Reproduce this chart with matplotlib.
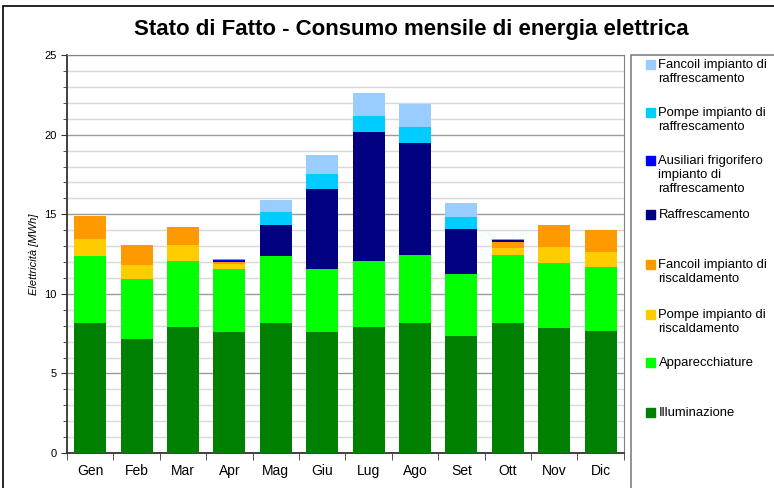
import matplotlib.pyplot as plt
import matplotlib.patches as mpatches
from matplotlib.ticker import MultipleLocator, FixedLocator
import numpy as np

plt.rcParams['font.family'] = ['Liberation Sans', 'DejaVu Sans']

mesi = ['Gen', 'Feb', 'Mar', 'Apr', 'Mag', 'Giu', 'Lug', 'Ago', 'Set', 'Ott', 'Nov', 'Dic']

# MWh per month, stacked from bottom to top
illuminazione = [8.18, 7.18, 7.93, 7.62, 8.18, 7.62, 7.93, 8.18, 7.36, 8.18, 7.87, 7.68]
apparecchiature = [4.20, 3.76, 4.14, 3.95, 4.20, 3.95, 4.14, 4.27, 3.90, 4.27, 4.08, 4.01]
pompe_risc = [1.07, 0.88, 1.01, 0.33, 0, 0, 0, 0, 0, 0.44, 1.00, 0.95]
fancoil_risc = [1.45, 1.26, 1.12, 0.13, 0, 0, 0, 0, 0, 0.35, 1.38, 1.38]
raffrescamento = [0, 0, 0, 0.06, 1.95, 5.02, 8.10, 7.01, 2.82, 0.12, 0, 0]
ausiliari = [0, 0, 0, 0.02, 0.02, 0.03, 0.03, 0.03, 0.02, 0.02, 0, 0]
pompe_raffr = [0, 0, 0, 0.05, 0.80, 0.91, 0.97, 0.99, 0.73, 0.06, 0, 0]
fancoil_raffr = [0, 0, 0, 0.01, 0.75, 1.19, 1.45, 1.44, 0.88, 0.02, 0, 0]

serie = [illuminazione, apparecchiature, pompe_risc, fancoil_risc,
         raffrescamento, ausiliari, pompe_raffr, fancoil_raffr]
etichette = ['Illuminazione', 'Apparecchiature', 'Pompe impianto di\nriscaldamento',
             'Fancoil impianto di\nriscaldamento', 'Raffrescamento',
             'Ausiliari frigorifero\nimpianto di\nraffrescamento',
             'Pompe impianto di\nraffrescamento', 'Fancoil impianto di\nraffrescamento']
colori = ['#008000', '#00FF00', '#FFCC00', '#FF9900', '#000080', '#0000FF', '#00CCFF', '#99CCFF']

fig = plt.figure(figsize=(7.74, 4.88), dpi=100)
ax = fig.add_axes([0.0866, 0.0717, 0.7194, 0.8153])

x = np.arange(len(mesi))
base = np.zeros(len(mesi))
for vals, col in zip(serie, colori):
    ax.bar(x, vals, bottom=base, width=0.69, color=col, zorder=3)
    base += np.array(vals)

ax.set_xlim(-0.5, 11.5)
ax.set_ylim(0, 25)
ax.yaxis.set_major_locator(MultipleLocator(5))
ax.yaxis.set_minor_locator(MultipleLocator(1))
ax.grid(which='minor', axis='y', color='#d8d8d8', linewidth=1, zorder=0)
ax.grid(which='major', axis='y', color='#9a9a9a', linewidth=1, zorder=0)

ax.set_xticks(x)
ax.set_xticklabels(mesi, fontsize=10)
ax.tick_params(axis='x', which='major', length=0, pad=8)
ax.xaxis.set_minor_locator(FixedLocator(np.arange(-0.5, 12, 1)))
ax.tick_params(axis='x', which='minor', length=5, direction='out', color='#333333')
ax.tick_params(axis='y', which='major', labelsize=8, length=4, color='#333333')
ax.tick_params(axis='y', which='minor', length=3, color='#333333')

for s in ['left', 'bottom']:
    ax.spines[s].set_color('#333333')
    ax.spines[s].set_linewidth(1.3)
for s in ['top', 'right']:
    ax.spines[s].set_color('#808080')

ax.set_ylabel('Elettricità [MWh]', fontsize=8, style='italic', labelpad=4)

fig.text(0.532, 1 - 30 / 488, 'Stato di Fatto - Consumo mensile di energia elettrica',
         ha='center', va='center', fontsize=16, fontweight='bold')

# outer chart border (extends beyond the cropped image)
fig.patches.append(mpatches.Rectangle((0.004, -0.1), 1.2, 1.088, transform=fig.transFigure,
                                      fill=False, edgecolor='black', linewidth=1.2))

# legend box
fig.patches.append(mpatches.Rectangle((631 / 774, -0.1), 0.3, 1.1 - 55 / 488, transform=fig.transFigure,
                                      fill=False, edgecolor='#808080', linewidth=1.2))

leg_y = [412, 362, 314, 264, 214, 160, 112, 64]
for lab, col, yy in zip(etichette, colori, leg_y):
    fig.patches.append(mpatches.Rectangle((646 / 774, 1 - (yy + 4.5) / 488), 9 / 774, 9 / 488,
                                          transform=fig.transFigure, color=col))
    fig.text(658.5 / 774, 1 - (yy - 5) / 488, lab, fontsize=9.4, va='top', ha='left',
             linespacing=1.2)

fig.savefig('out.png', dpi=100)
